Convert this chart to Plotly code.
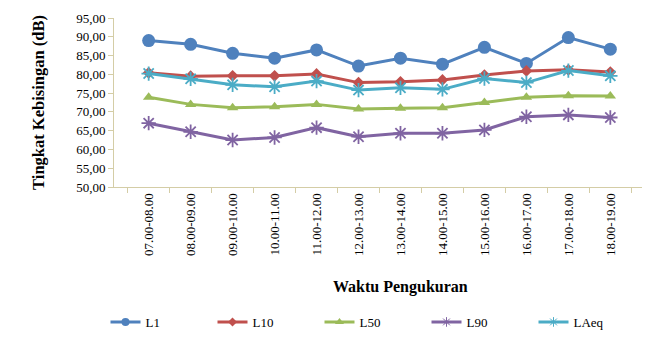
import plotly.graph_objects as go

categories = ["07.00-08.00", "08.00-09.00", "09.00-10.00", "10.00-11.00", "11.00-12.00",
              "12.00-13.00", "13.00-14.00", "14.00-15.00", "15.00-16.00", "16.00-17.00",
              "17.00-18.00", "18.00-19.00"]
L1 = [89.0, 88.0, 85.6, 84.3, 86.5, 82.2, 84.3, 82.7, 87.2, 82.9, 89.8, 86.7]
L10 = [80.4, 79.5, 79.6, 79.6, 80.1, 77.8, 78.0, 78.5, 79.8, 80.9, 81.2, 80.6]
L50 = [73.9, 72.0, 71.1, 71.4, 72.0, 70.8, 71.0, 71.1, 72.5, 73.9, 74.3, 74.2]
L90 = [67.0, 64.7, 62.5, 63.2, 65.8, 63.4, 64.3, 64.3, 65.2, 68.7, 69.2, 68.5]
LAeq = [80.2, 78.8, 77.2, 76.7, 78.2, 75.8, 76.4, 76.0, 78.9, 77.8, 81.0, 79.6]
y_ticks = [50, 55, 60, 65, 70, 75, 80, 85, 90, 95]

series = [
    ("L1", L1, "#4F81BD", "circle", 13, 0, 8),
    ("L10", L10, "#C0504D", "diamond", 9, 0, 7),
    ("L50", L50, "#9BBB59", "triangle-up", 10, 0, 8),
    ("L90", L90, "#8064A2", "asterisk-open", 12, 1.8, 8),
    ("LAeq", LAeq, "#4BACC6", "asterisk-open", 12, 1.8, 8),
]

FONT = "Liberation Serif"
fig = go.Figure()
for name, vals, col, sym, size, lw, lsize in series:
    fig.add_trace(go.Scatter(
        x=categories, y=vals, name=name, mode="lines+markers", showlegend=False,
        line=dict(color=col, width=3),
        marker=dict(symbol=sym, size=size, color=col, line=dict(color=col, width=lw)),
    ))
for name, vals, col, sym, size, lw, lsize in series:
    # legend entry with the small marker used in the reference legend
    fig.add_trace(go.Scatter(
        x=[None], y=[None], name=name, mode="lines+markers",
        line=dict(color=col, width=3),
        marker=dict(symbol=sym, size=lsize, color=col, line=dict(color=col, width=1 if lw else 0)),
    ))

axis_col = "#D4CDA6"
fig.update_layout(
    width=650, height=340,
    margin=dict(l=106, r=13, t=10, b=161),
    paper_bgcolor="white", plot_bgcolor="white",
    font=dict(family=FONT, size=13, color="black"),
    separators=",.",
    xaxis=dict(
        type="category", tickangle=-90, showgrid=False, automargin=False,
        showline=True, linecolor=axis_col, linewidth=1,
        ticks="outside", tickson="boundaries", ticklen=5, tickcolor=axis_col,
        tickfont=dict(family=FONT, size=13),
    ),
    yaxis=dict(
        range=[50, 95], tickvals=y_ticks, tickformat=".2f", showgrid=False, automargin=False,
        showline=True, linecolor=axis_col, linewidth=1,
        ticks="outside", ticklen=5, tickcolor=axis_col,
        tickfont=dict(family=FONT, size=13),
        title=dict(text="<b>Tingkat Kebisingan (dB)</b>", font=dict(family=FONT, size=16.5), standoff=27),
    ),
    legend=dict(orientation="h", xref="container", x=0.15, xanchor="left",
                yref="container", y=0.0765, yanchor="middle",
                entrywidth=62, entrywidthmode="pixels",
                font=dict(family=FONT, size=13)),
    showlegend=True,
    annotations=[dict(text="<b>Waktu Pengukuran</b>", xref="paper", yref="paper",
                      x=0.539, y=-0.592, xanchor="center", yanchor="middle",
                      showarrow=False, font=dict(family=FONT, size=16))],
)
fig.write_html("out.html")
